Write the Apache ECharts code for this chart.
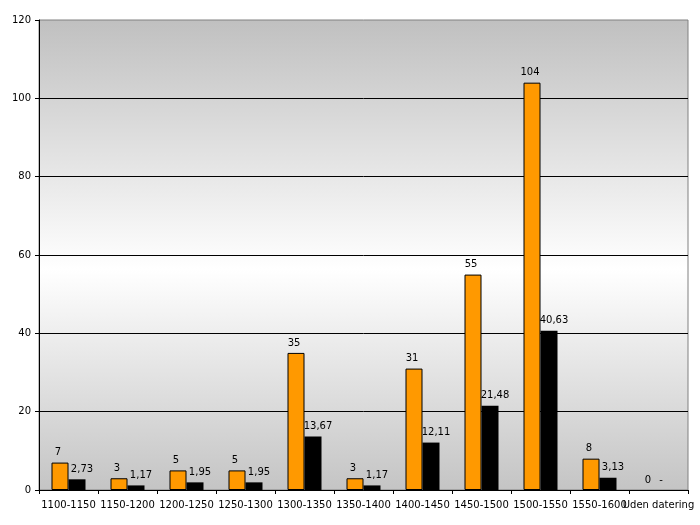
<!DOCTYPE html>
<html><head><meta charset="utf-8">
<script src="https://cdn.jsdelivr.net/npm/echarts@6/dist/echarts.min.js"></script>
<style>html,body{margin:0;padding:0;background:#fff}#c{width:700px;height:525px}</style>
</head><body><div id="c"></div>
<script>
const categories = ['1100-1150','1150-1200','1200-1250','1250-1300','1300-1350','1350-1400','1400-1450','1450-1500','1500-1550','1550-1600','Uden datering'];
const counts = [7,3,5,5,35,3,31,55,104,8,0];
const percents = [2.73,1.17,1.95,1.95,13.67,1.17,12.11,21.48,40.63,3.13,0];
const yTicks = {min:0, max:120, interval:20};

const font = 'DejaVu Sans, Verdana, sans-serif';
const fmt = v => String(v).replace('.', ',');
const countData = counts.map(v => v === 0 ? {value:v, itemStyle:{borderWidth:0}} : v);
const pctData = percents.map(v => v === 0 ? {value:v, label:{offset:[-6,0]}} : v);
const chart = echarts.init(document.getElementById('c'), null, {renderer:'canvas'});
chart.setOption({
  animation:false,
  grid:{left:39,right:12,top:20,bottom:35,show:true,borderColor:'#808080',borderWidth:1,
    backgroundColor:new echarts.graphic.LinearGradient(0,0,0,1,[
      {offset:0,color:'#c0c0c0'},{offset:0.53,color:'#ffffff'},{offset:1,color:'#c4c4c4'}])},
  xAxis:{type:'category',data:categories,
    axisLine:{lineStyle:{color:'#000',width:1}},
    axisTick:{show:true,length:4,lineStyle:{color:'#000'}},
    axisLabel:{color:'#000',fontFamily:font,fontSize:10,margin:10,interval:0}},
  yAxis:{type:'value',min:yTicks.min,max:yTicks.max,interval:yTicks.interval,
    axisLine:{show:true,lineStyle:{color:'#000',width:1}},
    axisTick:{show:true,length:4,lineStyle:{color:'#000'}},
    axisLabel:{color:'#000',fontFamily:font,fontSize:10,margin:8},
    splitLine:{show:true,showMaxLine:false,lineStyle:{color:'#000',width:1}}},
  series:[
    {type:'bar',data:countData,barWidth:17,barGap:'0%',
     itemStyle:{color:'#ff9900',borderColor:'#000',borderWidth:1},
     label:{show:true,position:'top',color:'#000',fontFamily:font,fontSize:10,distance:5,offset:[-2,0],formatter:p=>fmt(p.value)}},
    {type:'bar',data:pctData,barWidth:17,
     itemStyle:{color:'#000'},
     label:{show:true,position:'top',color:'#000',fontFamily:font,fontSize:10,distance:5,offset:[5,0],formatter:p=>p.value===0?'-':fmt(p.value)}}
  ]
});
</script></body></html>
